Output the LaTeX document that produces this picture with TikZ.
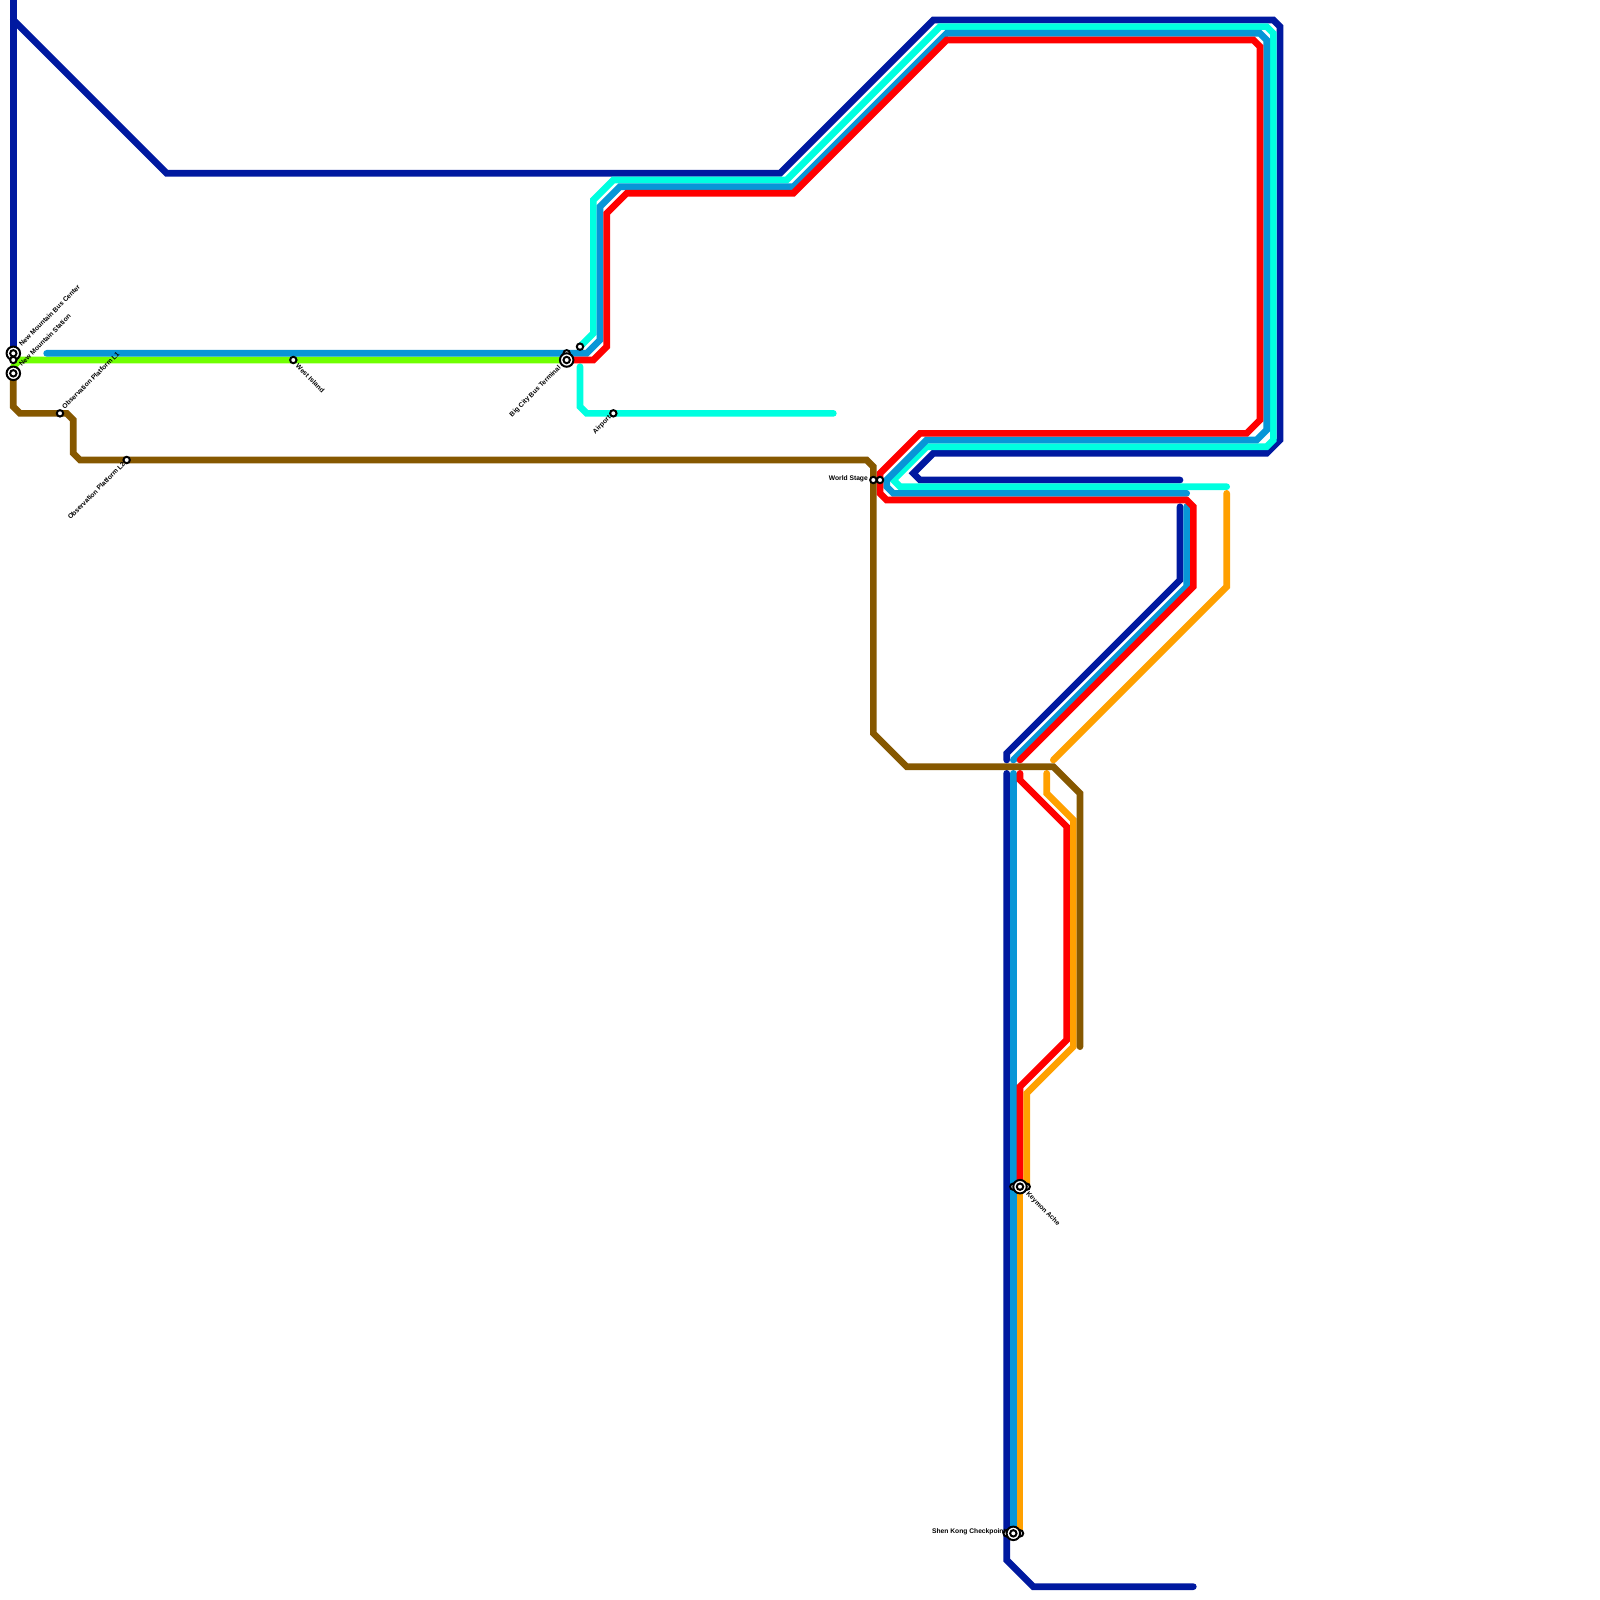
\documentclass[tikz,border=0pt]{standalone}
\usepackage{fontspec}
\setmainfont{Liberation Sans}
\definecolor{ldark}{HTML}{0019A0}
\definecolor{lcyan}{HTML}{00FFE0}
\definecolor{lblue}{HTML}{0896D7}
\definecolor{lred}{HTML}{FF0000}
\definecolor{lgreen}{HTML}{70FF00}
\definecolor{lorange}{HTML}{FFA000}
\definecolor{lbrown}{HTML}{865800}
\tikzset{
  route/.style={line width=6.67pt,line cap=round,line join=miter,miter limit=10},
  stop/.style={circle,draw=black,fill=white,line width=2pt,minimum size=6.4pt,inner sep=0pt},
  bigstop/.style={circle,draw=black,fill=white,line width=2pt,minimum size=13.5pt,inner sep=0pt},
  lab/.style={inner sep=0pt,font=\bfseries\fontsize{6.7}{7}\selectfont,text=black},
}
\begin{document}
\begin{tikzpicture}[x=6.66667pt,y=-6.66667pt]
\useasboundingbox (0,0) rectangle (240,240);
\fill[white] (0,0) rectangle (240,240);
% dark blue
\draw[route,ldark] (2,0) -- (2,53);
\draw[route,ldark] (2,3) -- (25,26) -- (117,26) -- (140,3) -- (191,3) -- (192,4) -- (192,66) -- (190,68) -- (140,68) -- (137,71) -- (138,72) -- (177,72);
\draw[route,ldark] (177,76) -- (177,87) -- (151,113) -- (151,114);
\draw[route,ldark] (151,116) -- (151,234) -- (155,238) -- (179,238);
% cyan
\draw[route,lcyan] (87,52) -- (89,50) -- (89,30) -- (92,27) -- (118,27) -- (141,4) -- (190,4) -- (191,5) -- (191,66) -- (190,67) -- (139,67) -- (134,72) -- (135,73) -- (184,73);
\draw[route,lcyan] (87,55) -- (87,61) -- (88,62) -- (125,62);
% green
\draw[route,lgreen] (2,55) -- (3,54) -- (85,54);
% blue
\draw[route,lblue] (7,53) -- (88,53) -- (90,51) -- (90,31) -- (93,28) -- (119,28) -- (142,5) -- (189,5) -- (190,6) -- (190,64.5) -- (188.5,66) -- (139,66) -- (133,72) -- (133,73) -- (134,74) -- (178,74);
\draw[route,lblue] (178,76) -- (178,88) -- (152,114);
\draw[route,lblue] (152,116) -- (152,230);
% red
\draw[route,lred] (85,54) -- (89,54) -- (91,52) -- (91,32) -- (94,29) -- (119,29) -- (142,6) -- (188,6) -- (189,7) -- (189,63) -- (187,65) -- (138,65) -- (132,71) -- (132,74) -- (133,75) -- (178,75) -- (179,76) -- (179,88) -- (153,114);
\draw[route,lred] (153,116) -- (153,117) -- (160,124) -- (160,156) -- (153,163) -- (153,178);
% orange
\draw[route,lorange] (184,74) -- (184,88) -- (158,114);
\draw[route,lorange] (157,116) -- (157,119) -- (161,123) -- (161,157) -- (154,164) -- (154,178);
\draw[route,lorange] (153,178) -- (153,230);
% brown
\draw[route,lbrown] (2,56) -- (2,61) -- (3,62) -- (10,62) -- (11,63) -- (11,68) -- (12,69) -- (130,69) -- (131,70) -- (131,110) -- (136,115) -- (158,115) -- (162,119) -- (162,157);
% stations
\node[bigstop] (nmbus) at (2,53) {};
\node[stop] (nmbusi) at (2,53) {};
\node[stop] (nmlink) at (2,54) {};
\node[bigstop] (nms) at (2,56) {};
\node[stop] (nmsi) at (2,56) {};
\node[stop] (ol1) at (9,62) {};
\node[stop] (ol2) at (19,69) {};
\node[stop] (west) at (44,54) {};
\node[stop] (bigtop) at (85,53) {};
\node[bigstop] (bigc) at (85,54) {};
\node[stop] (bigi) at (85,54) {};
\node[stop] (cyanend) at (87,52) {};
\node[stop] (airport) at (92,62) {};
\node[stop] (wsa) at (131,72) {};
\node[stop] (wsb) at (132,72) {};
\node[stop] (keyl) at (152,178) {};
\node[stop] (keyr) at (154,178) {};
\node[bigstop] (key) at (153,178) {};
\node[stop] (keyi) at (153,178) {};
\node[stop] (shl) at (151,230) {};
\node[stop] (shr) at (153,230) {};
\node[bigstop] (sh) at (152,230) {};
\node[stop] (shi) at (152,230) {};
% labels
\node[lab,rotate=45,anchor=west] (tbus) at (3,51.75) {New Mountain Bus Center};
\node[lab,rotate=45,anchor=west] (tnms) at (3,54.75) {New Mountain Station};
\node[lab,rotate=45,anchor=west] (tol1) at (9.45,61.2) {Observation Platform L1};
\node[lab,rotate=45,anchor=east] (tol2) at (18.6,69.45) {Observation Platform L2};
\node[lab,rotate=45,anchor=east] (tbig) at (84,55.05) {Big City Bus Terminal};
\node[lab,rotate=45,anchor=east] (tair) at (91.5,62.55) {Airport};
\node[lab,rotate=-45,anchor=west] (twest) at (44.55,54.75) {West Island};
\node[lab,rotate=-45,anchor=west] (tkey) at (154.05,178.95) {Keymon Ache};
\node[lab,anchor=east] (tws) at (130.2,71.85) {World Stage};
\node[lab,anchor=east] (tsh) at (150.9,229.8) {Shen Kong Checkpoint};
\end{tikzpicture}
\end{document}
